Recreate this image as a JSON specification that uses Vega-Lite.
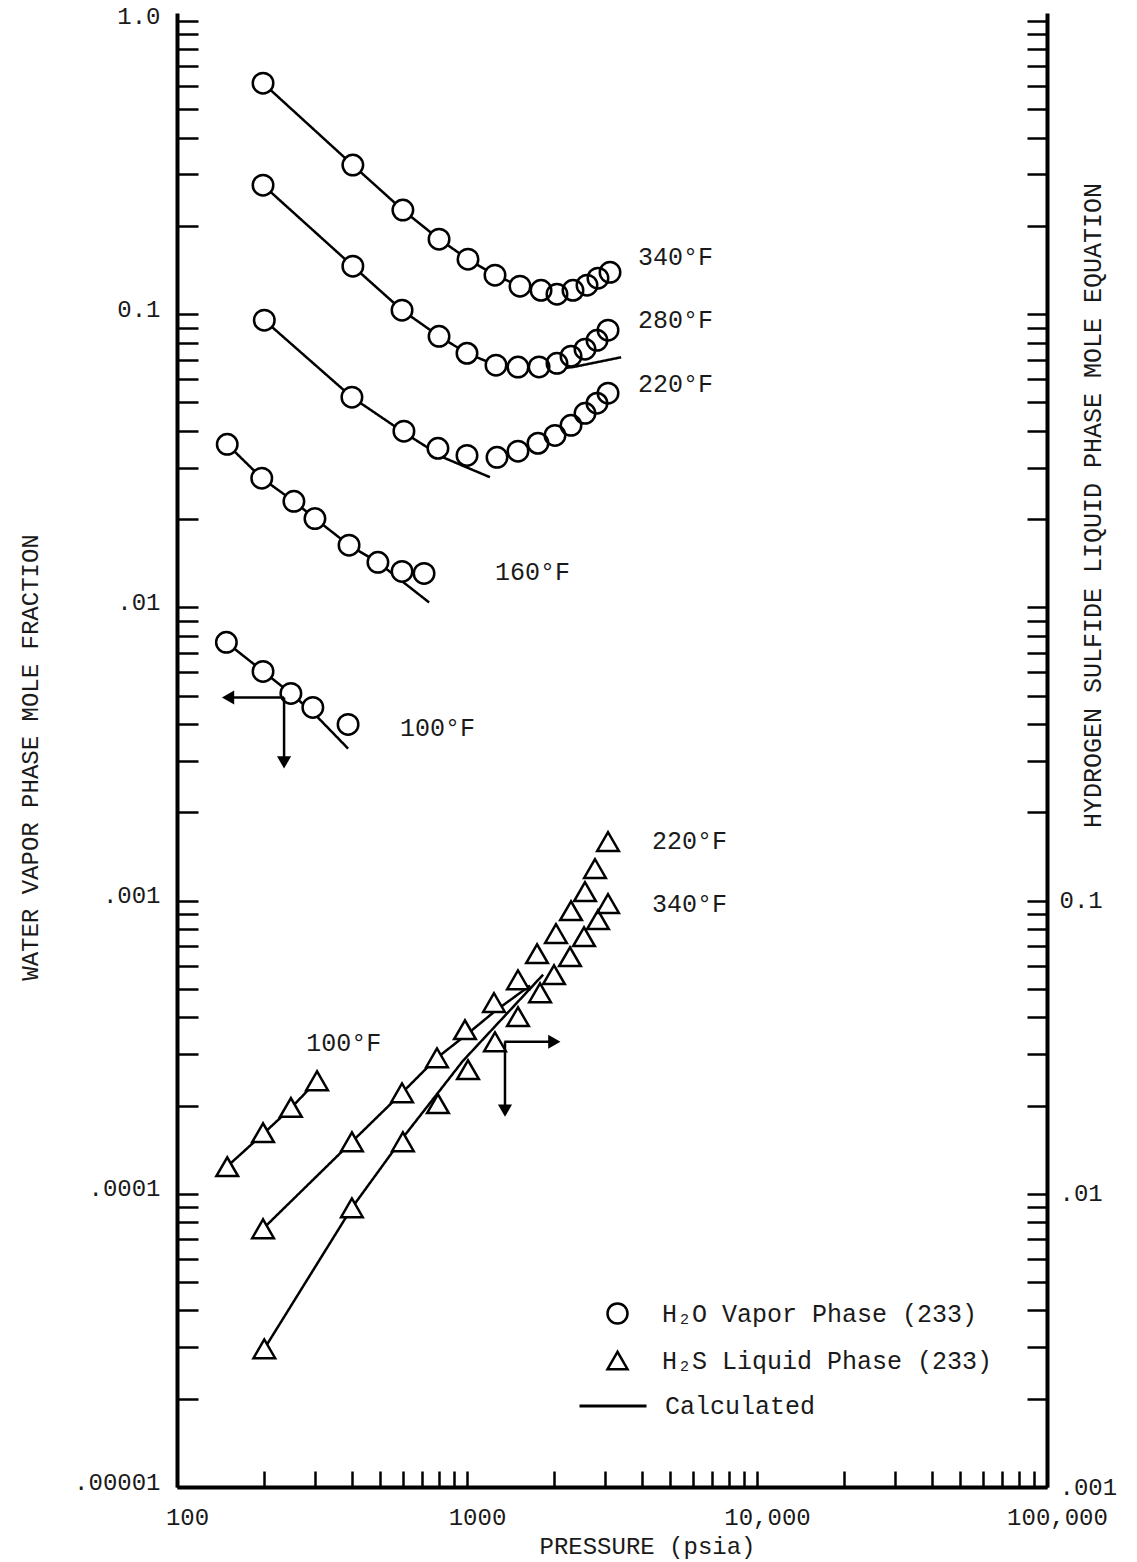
{
"$schema":"https://vega.github.io/schema/vega-lite/v6.json",
"width":870,"height":1474,
"autosize":{"type":"none"},
"padding":{"left":177,"top":13,"right":90,"bottom":75},
"background":"white",
"config":{
 "view":{"stroke":null},
 "font":"Liberation Mono",
 "axis":{"grid":false,"domainColor":"#000","domainWidth":4,"tickColor":"#000","tickWidth":2.5,"labelFont":"Liberation Mono","labelFontSize":24,"labelColor":"#1a1a1a","titleFont":"Liberation Mono","titleFontSize":24,"titleFontWeight":"normal","titleColor":"#1a1a1a","labelOverlap":false,"labelFlush":false,"labelBound":false},
 "legend":{"symbolStrokeColor":"#000","symbolFillColor":"#fff","symbolStrokeWidth":2.5,"symbolOpacity":1},
 "text":{"font":"Liberation Mono","fontSize":25,"color":"#1a1a1a"}
},
"datasets":{
 "circles":[
  {"T":"340","P":198,"y":0.614},{"T":"340","P":404,"y":0.3225},{"T":"340","P":601,"y":0.2265},{"T":"340","P":801,"y":0.1803},{"T":"340","P":1008,"y":0.154},{"T":"340","P":1249,"y":0.1359},{"T":"340","P":1523,"y":0.1246},{"T":"340","P":1800,"y":0.1207},{"T":"340","P":2043,"y":0.117},{"T":"340","P":2320,"y":0.1207},{"T":"340","P":2593,"y":0.1256},{"T":"340","P":2829,"y":0.1327},{"T":"340","P":3113,"y":0.139},
  {"T":"280","P":198,"y":0.2756},{"T":"280","P":404,"y":0.1458},{"T":"280","P":597,"y":0.1032},{"T":"280","P":801,"y":0.0841},{"T":"280","P":1000,"y":0.0736},{"T":"280","P":1259,"y":0.067},{"T":"280","P":1499,"y":0.066},{"T":"280","P":1772,"y":0.0661},{"T":"280","P":2043,"y":0.068},{"T":"280","P":2284,"y":0.0719},{"T":"280","P":2552,"y":0.076},{"T":"280","P":2807,"y":0.0815},{"T":"280","P":3064,"y":0.0882},
  {"T":"220","P":200,"y":0.0954},{"T":"220","P":401,"y":0.0521},{"T":"220","P":606,"y":0.0399},{"T":"220","P":794,"y":0.0349},{"T":"220","P":1000,"y":0.033},{"T":"220","P":1269,"y":0.0325},{"T":"220","P":1499,"y":0.0341},{"T":"220","P":1757,"y":0.0363},{"T":"220","P":2011,"y":0.0386},{"T":"220","P":2284,"y":0.0418},{"T":"220","P":2552,"y":0.0459},{"T":"220","P":2807,"y":0.0497},{"T":"220","P":3064,"y":0.0538},
  {"T":"160","P":149,"y":0.036},{"T":"160","P":196,"y":0.0276},{"T":"160","P":253,"y":0.023},{"T":"160","P":299,"y":0.0201},{"T":"160","P":392,"y":0.0163},{"T":"160","P":493,"y":0.01425},{"T":"160","P":597,"y":0.01327},{"T":"160","P":711,"y":0.01306},
  {"T":"100","P":148,"y":0.0076},{"T":"100","P":198,"y":0.00605},{"T":"100","P":247,"y":0.00509},{"T":"100","P":294,"y":0.00456},{"T":"100","P":389,"y":0.00399}
 ],
 "calcL":[
  {"T":"340","P":198,"y":0.614},{"T":"340","P":404,"y":0.3225},{"T":"340","P":601,"y":0.2265},{"T":"340","P":801,"y":0.1803},{"T":"340","P":1008,"y":0.154},{"T":"340","P":1249,"y":0.1359},{"T":"340","P":1523,"y":0.1246},{"T":"340","P":1800,"y":0.1207},{"T":"340","P":2043,"y":0.117},{"T":"340","P":2320,"y":0.118},
  {"T":"280","P":198,"y":0.2756},{"T":"280","P":404,"y":0.1458},{"T":"280","P":597,"y":0.1032},{"T":"280","P":801,"y":0.0841},{"T":"280","P":1000,"y":0.0736},{"T":"280","P":1259,"y":0.067},{"T":"280","P":1499,"y":0.0655},{"T":"280","P":1772,"y":0.065},{"T":"280","P":2043,"y":0.0652},{"T":"280","P":2320,"y":0.066},{"T":"280","P":3400,"y":0.0713},
  {"T":"220","P":200,"y":0.0954},{"T":"220","P":401,"y":0.0521},{"T":"220","P":606,"y":0.0395},{"T":"220","P":826,"y":0.0325},{"T":"220","P":1000,"y":0.030},{"T":"220","P":1200,"y":0.0278},
  {"T":"160","P":149,"y":0.036},{"T":"160","P":196,"y":0.0276},{"T":"160","P":253,"y":0.023},{"T":"160","P":299,"y":0.0201},{"T":"160","P":392,"y":0.0163},{"T":"160","P":493,"y":0.01425},{"T":"160","P":740,"y":0.0104},
  {"T":"100","P":148,"y":0.0076},{"T":"100","P":198,"y":0.00605},{"T":"100","P":247,"y":0.00509},{"T":"100","P":300,"y":0.0043},{"T":"100","P":389,"y":0.0033}
 ],
 "labelsL":[
  {"P":3888,"y":0.1565,"label":"340°F"},{"P":3888,"y":0.0954,"label":"280°F"},{"P":3888,"y":0.0577,"label":"220°F"},{"P":1249,"y":0.01317,"label":"160°F"},{"P":587,"y":0.003864,"label":"100°F"}
 ],
 "arrowsL":[
  {"P":234,"P2":152,"y":0.00493,"y2":0.00493},{"P":234,"P2":234,"y":0.00493,"y2":0.00296}
 ],
 "headsL":[
  {"P":150,"y":0.00493,"dir":"left"},{"P":234,"y":0.00296,"dir":"down"}
 ],
 "triangles":[
  {"T":"220","P":198,"y":0.0076},{"T":"220","P":401,"y":0.01505},{"T":"220","P":597,"y":0.0221},{"T":"220","P":788,"y":0.0291},{"T":"220","P":984,"y":0.0363},{"T":"220","P":1239,"y":0.0449},{"T":"220","P":1499,"y":0.0537},{"T":"220","P":1744,"y":0.0659},{"T":"220","P":2027,"y":0.0772},{"T":"220","P":2284,"y":0.0924},{"T":"220","P":2552,"y":0.1073},{"T":"220","P":2763,"y":0.1286},{"T":"220","P":3064,"y":0.159},
  {"T":"340","P":200,"y":0.00296},{"T":"340","P":401,"y":0.00896},{"T":"340","P":601,"y":0.01505},{"T":"340","P":794,"y":0.0203},{"T":"340","P":1008,"y":0.0265},{"T":"340","P":1249,"y":0.033},{"T":"340","P":1499,"y":0.0402},{"T":"340","P":1786,"y":0.0485},{"T":"340","P":1995,"y":0.0559},{"T":"340","P":2265,"y":0.0644},{"T":"340","P":2532,"y":0.0753},{"T":"340","P":2829,"y":0.0861},{"T":"340","P":3064,"y":0.0977},
  {"T":"100","P":149,"y":0.01237},{"T":"100","P":198,"y":0.01616},{"T":"100","P":247,"y":0.0197},{"T":"100","P":304,"y":0.0243}
 ],
 "calcR":[
  {"T":"220","P":198,"y":0.0076},{"T":"220","P":401,"y":0.01505},{"T":"220","P":597,"y":0.0221},{"T":"220","P":788,"y":0.0291},{"T":"220","P":1000,"y":0.035},{"T":"220","P":1250,"y":0.042},{"T":"220","P":1650,"y":0.0513},
  {"T":"340","P":200,"y":0.00296},{"T":"340","P":401,"y":0.00896},{"T":"340","P":600,"y":0.0155},{"T":"340","P":968,"y":0.0284},{"T":"340","P":1830,"y":0.0559},
  {"T":"100","P":149,"y":0.0124},{"T":"100","P":198,"y":0.016},{"T":"100","P":247,"y":0.0196},{"T":"100","P":304,"y":0.0243}
 ],
 "labelsR":[
  {"P":4345,"y":0.1603,"label":"220°F"},{"P":4345,"y":0.0977,"label":"340°F"},{"P":279,"y":0.0328,"label":"100°F"}
 ],
 "arrowsR":[
  {"P":1345,"P2":1995,"y":0.033,"y2":0.033},{"P":1352,"P2":1352,"y":0.033,"y2":0.0192}
 ],
 "headsR":[
  {"P":2000,"y":0.033,"dir":"right"},{"P":1352,"y":0.0192,"dir":"down"}
 ]
},
"layer":[
 {"layer":[
  {"data":{"name":"calcL"},"mark":{"type":"line","color":"#000","strokeWidth":2.5},
   "encoding":{
    "x":{"field":"P","type":"quantitative","scale":{"type":"log","domain":[100,100000],"nice":false},
     "axis":{"orient":"bottom","title":"PRESSURE (psia)","values":[100,200,300,400,500,600,700,800,900,1000,2000,3000,4000,5000,6000,7000,8000,9000,10000,20000,30000,40000,50000,60000,70000,80000,90000,100000],
      "labelExpr":"datum.value==100?'100':datum.value==1000?'1000':datum.value==10000?'10,000':datum.value==100000?'100,000':''",
      "tickSize":-16,"labelPadding":34,"labelOffset":10,"titleX":470,"titleY":59,"titleAlign":"center","titleBaseline":"middle"}},
    "y":{"field":"y","type":"quantitative","scale":{"type":"log","domain":[0.00001,1.065],"nice":false},
     "axis":{"orient":"left","title":"WATER VAPOR PHASE MOLE FRACTION",
      "values":[0.00001,0.00002,0.00003,0.00004,0.00005,0.00006,0.00007,0.00008,0.00009,0.0001,0.0002,0.0003,0.0004,0.0005,0.0006,0.0007,0.0008,0.0009,0.001,0.002,0.003,0.004,0.005,0.006,0.007,0.008,0.009,0.01,0.02,0.03,0.04,0.05,0.06,0.07,0.08,0.09,0.1,0.2,0.3,0.4,0.5,0.6,0.7,0.8,0.9,1],
      "labelExpr":"datum.value==1?'1.0':datum.value==0.1?'0.1':datum.value==0.01?'.01':datum.value==0.001?'.001':datum.value==0.0001?'.0001':datum.value==0.00001?'.00001':''",
      "tickSize":-21,"labelPadding":38,"labelOffset":-5,"titleAngle":-90,"titleX":-147,"titleY":744,"titleAlign":"center","titleBaseline":"middle"}},
    "detail":{"field":"T"},
    "strokeDash":{"datum":"Calculated","type":"nominal","scale":{"domain":["Calculated"],"range":[[1,0]]},
     "legend":{"orient":"none","legendX":401,"legendY":1358,"title":null,"symbolSize":4489,"symbolType":"stroke","symbolStrokeWidth":3,"symbolStrokeColor":"#000","labelFont":"Liberation Mono","labelFontSize":25,"labelColor":"#1a1a1a","labelOffset":17,"padding":0,"labelLimit":600}}}},
  {"data":{"name":"circles"},"mark":{"type":"point","shape":"circle","filled":true,"color":"#fff","size":420,"opacity":1},
   "encoding":{
    "x":{"field":"P","type":"quantitative","scale":{"type":"log","domain":[100,100000],"nice":false}},
    "y":{"field":"y","type":"quantitative","scale":{"type":"log","domain":[0.00001,1.065],"nice":false}}}},
  {"data":{"name":"circles"},"mark":{"type":"point","filled":false,"color":"#000","strokeWidth":2.5,"size":420,"opacity":1},
   "encoding":{
    "x":{"field":"P","type":"quantitative","scale":{"type":"log","domain":[100,100000],"nice":false}},
    "y":{"field":"y","type":"quantitative","scale":{"type":"log","domain":[0.00001,1.065],"nice":false}},
    "shape":{"datum":"H₂O Vapor Phase (233)","type":"nominal",
     "scale":{"domain":["H₂O Vapor Phase (233)","H₂S Liquid Phase (233)"],"range":["circle","triangle-up"]},
     "legend":{"orient":"none","legendX":428,"legendY":1288,"title":null,"symbolSize":400,"labelFont":"Liberation Mono","labelFontSize":25,"labelColor":"#1a1a1a","labelOffset":32,"rowPadding":17,"padding":0,"labelLimit":600}}}},
  {"data":{"name":"labelsL"},"mark":{"type":"text","align":"left","baseline":"middle"},
   "encoding":{
    "x":{"field":"P","type":"quantitative","scale":{"type":"log","domain":[100,100000],"nice":false}},
    "y":{"field":"y","type":"quantitative","scale":{"type":"log","domain":[0.00001,1.065],"nice":false}},
    "text":{"field":"label"}}},
  {"data":{"name":"arrowsL"},"mark":{"type":"rule","color":"#000","strokeWidth":2.5},
   "encoding":{
    "x":{"field":"P","type":"quantitative","scale":{"type":"log","domain":[100,100000],"nice":false}},
    "x2":{"field":"P2"},
    "y":{"field":"y","type":"quantitative","scale":{"type":"log","domain":[0.00001,1.065],"nice":false}},
    "y2":{"field":"y2"}}},
  {"data":{"name":"headsL"},"transform":[{"filter":"datum.dir=='left'"}],"mark":{"type":"point","shape":"triangle-left","filled":true,"color":"#000","size":200,"opacity":1},
   "encoding":{
    "x":{"field":"P","type":"quantitative","scale":{"type":"log","domain":[100,100000],"nice":false}},
    "y":{"field":"y","type":"quantitative","scale":{"type":"log","domain":[0.00001,1.065],"nice":false}}}},
  {"data":{"name":"headsL"},"transform":[{"filter":"datum.dir=='down'"}],"mark":{"type":"point","shape":"triangle-down","filled":true,"color":"#000","size":200,"opacity":1},
   "encoding":{
    "x":{"field":"P","type":"quantitative","scale":{"type":"log","domain":[100,100000],"nice":false}},
    "y":{"field":"y","type":"quantitative","scale":{"type":"log","domain":[0.00001,1.065],"nice":false}}}}
 ]},
 {"layer":[
  {"data":{"name":"calcR"},"mark":{"type":"line","color":"#000","strokeWidth":2.5},
   "encoding":{
    "x":{"field":"P","type":"quantitative","scale":{"type":"log","domain":[100,100000],"nice":false}},
    "y":{"field":"y","type":"quantitative","scale":{"type":"log","domain":[0.001,106.5],"nice":false},
     "axis":{"orient":"right","title":"HYDROGEN SULFIDE LIQUID PHASE MOLE EQUATION",
      "values":[0.001,0.002,0.003,0.004,0.005,0.006,0.007,0.008,0.009,0.01,0.02,0.03,0.04,0.05,0.06,0.07,0.08,0.09,0.1,0.2,0.3,0.4,0.5,0.6,0.7,0.8,0.9,1,2,3,4,5,6,7,8,9,10,20,30,40,50,60,70,80,90,100],
      "labelExpr":"datum.value==0.1?'0.1':datum.value==0.01?'.01':datum.value==0.001?'.001':''",
      "tickSize":-20,"labelPadding":32,"titleAngle":-90,"titleX":45,"titleY":492,"titleAlign":"center","titleBaseline":"middle","titleFontSize":25}},
    "detail":{"field":"T"},
    "strokeDash":{"datum":"Calculated","type":"nominal","scale":{"domain":["Calculated"],"range":[[1,0]]},
     "legend":{"orient":"none","legendX":401,"legendY":1358,"title":null,"symbolSize":4489,"symbolType":"stroke","symbolStrokeWidth":3,"symbolStrokeColor":"#000","labelFont":"Liberation Mono","labelFontSize":25,"labelColor":"#1a1a1a","labelOffset":17,"padding":0,"labelLimit":600}}}},
  {"data":{"name":"triangles"},"mark":{"type":"point","shape":"triangle-up","filled":true,"color":"#fff","size":470,"opacity":1},
   "encoding":{
    "x":{"field":"P","type":"quantitative","scale":{"type":"log","domain":[100,100000],"nice":false}},
    "y":{"field":"y","type":"quantitative","scale":{"type":"log","domain":[0.001,106.5],"nice":false}}}},
  {"data":{"name":"triangles"},"mark":{"type":"point","filled":false,"color":"#000","strokeWidth":2.5,"size":470,"opacity":1},
   "encoding":{
    "x":{"field":"P","type":"quantitative","scale":{"type":"log","domain":[100,100000],"nice":false}},
    "y":{"field":"y","type":"quantitative","scale":{"type":"log","domain":[0.001,106.5],"nice":false}},
    "shape":{"datum":"H₂S Liquid Phase (233)","type":"nominal",
     "scale":{"domain":["H₂O Vapor Phase (233)","H₂S Liquid Phase (233)"],"range":["circle","triangle-up"]},
     "legend":{"orient":"none","legendX":428,"legendY":1288,"title":null,"symbolSize":400,"labelFont":"Liberation Mono","labelFontSize":25,"labelColor":"#1a1a1a","labelOffset":32,"rowPadding":17,"padding":0,"labelLimit":600}}}},
  {"data":{"name":"labelsR"},"mark":{"type":"text","align":"left","baseline":"middle"},
   "encoding":{
    "x":{"field":"P","type":"quantitative","scale":{"type":"log","domain":[100,100000],"nice":false}},
    "y":{"field":"y","type":"quantitative","scale":{"type":"log","domain":[0.001,106.5],"nice":false}},
    "text":{"field":"label"}}},
  {"data":{"name":"arrowsR"},"mark":{"type":"rule","color":"#000","strokeWidth":2.5},
   "encoding":{
    "x":{"field":"P","type":"quantitative","scale":{"type":"log","domain":[100,100000],"nice":false}},
    "x2":{"field":"P2"},
    "y":{"field":"y","type":"quantitative","scale":{"type":"log","domain":[0.001,106.5],"nice":false}},
    "y2":{"field":"y2"}}},
  {"data":{"name":"headsR"},"transform":[{"filter":"datum.dir=='right'"}],"mark":{"type":"point","shape":"triangle-right","filled":true,"color":"#000","size":200,"opacity":1},
   "encoding":{
    "x":{"field":"P","type":"quantitative","scale":{"type":"log","domain":[100,100000],"nice":false}},
    "y":{"field":"y","type":"quantitative","scale":{"type":"log","domain":[0.001,106.5],"nice":false}}}},
  {"data":{"name":"headsR"},"transform":[{"filter":"datum.dir=='down'"}],"mark":{"type":"point","shape":"triangle-down","filled":true,"color":"#000","size":200,"opacity":1},
   "encoding":{
    "x":{"field":"P","type":"quantitative","scale":{"type":"log","domain":[100,100000],"nice":false}},
    "y":{"field":"y","type":"quantitative","scale":{"type":"log","domain":[0.001,106.5],"nice":false}}}}
 ]}
],
"resolve":{"scale":{"y":"independent"},"axis":{"y":"independent"}}
}
